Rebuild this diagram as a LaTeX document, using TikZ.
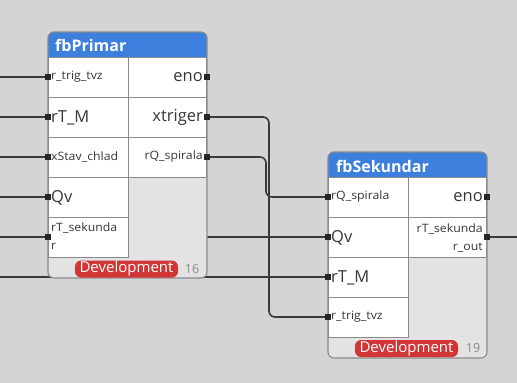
\documentclass[tikz,border=0pt]{standalone}
\usepackage{fontspec}
\setmainfont{Open Sans}
\usepackage{graphicx}
\definecolor{bgc}{HTML}{D4D4D4}
\definecolor{bodyc}{HTML}{E3E3E3}
\definecolor{borderc}{HTML}{8A8A8A}
\definecolor{hdrc}{HTML}{3D7FDD}
\definecolor{badgec}{HTML}{D13535}
\definecolor{wirec}{HTML}{3A3A3A}
\definecolor{txtc}{HTML}{363636}
\definecolor{numc}{HTML}{8C8C8C}
\newcommand{\sm}[1]{\scalebox{1.07}[1]{#1}}
\begin{document}
\begin{tikzpicture}[x=1pt,y=-1pt,
  wire/.style={draw=wirec,line width=1.6pt,rounded corners=6pt},
  cellbox/.style={draw=borderc,fill=white,line width=1pt},
  frame/.style={draw=borderc,line width=1.1pt,rounded corners=6pt},
  pinsq/.style={fill=black!85,rectangle,minimum width=6pt,minimum height=6.5pt,inner sep=0pt},
  biglbl/.style={font=\fontsize{16.5}{18}\selectfont,text=txtc,inner sep=0pt},
  smlbl/.style={font=\fontsize{11.5}{13}\selectfont,text=txtc,inner sep=0pt},
  twolbl/.style={font=\fontsize{11.5}{18}\selectfont,text=txtc,inner sep=0pt},
  title/.style={font=\fontsize{16}{18}\selectfont\bfseries,text=white,inner sep=0pt,anchor=west},
  badge/.style={fill=badgec,rounded corners=6pt,text=white,font=\fontsize{15}{17}\selectfont,minimum width=103pt,minimum height=17pt,inner sep=0pt},
  numlbl/.style={font=\fontsize{12.5}{14}\selectfont,text=numc,inner sep=0pt}]
\fill[bgc] (0,0) rectangle (517,383);
\useasboundingbox (0,0) rectangle (517,383);

% pin coordinates
\coordinate (A1) at (48,77);
\coordinate (A2) at (48,117);
\coordinate (A3) at (48,157);
\coordinate (A4) at (48,197);
\coordinate (A5) at (48,237);
\coordinate (AO1) at (207,77);
\coordinate (AO2) at (207,117);
\coordinate (AO3) at (207,157);
\coordinate (B1) at (328,197);
\coordinate (B2) at (328,237);
\coordinate (B3) at (328,277);
\coordinate (B4) at (328,317);
\coordinate (BO1) at (487,197);
\coordinate (BO2) at (487,237);
% free ends
\coordinate (L1) at (0,77);
\coordinate (L2) at (0,117);
\coordinate (L3) at (0,157);
\coordinate (L4) at (0,197);
\coordinate (L5) at (0,237);
\coordinate (L6) at (0,277);
\coordinate (ROUT) at (517,237);

% wires
\draw[wire] (L1) -- (A1);
\draw[wire] (L2) -- (A2);
\draw[wire] (L3) -- (A3);
\draw[wire] (L4) -- (A4);
\draw[wire] (L5) -- (B2);
\draw[wire] (L6) -- (B3);
\draw[wire] (AO2) -| (269,317) -- (B4);
\draw[wire] (AO3) -| (266,197) -- (B1);
\draw[wire] (BO2) -- (ROUT);

% ===== block fbPrimar =====
\fill[bodyc,rounded corners=6pt] (48,32) rectangle (207,278);
\fill[hdrc] (48,57) {[rounded corners=6pt] -- (48,32) -- (207,32)} -- (207,57) -- cycle;
\draw[cellbox] (48,57) rectangle (128,97);
\draw[cellbox] (48,97) rectangle (128,137);
\draw[cellbox] (48,137) rectangle (128,177);
\draw[cellbox] (48,177) rectangle (128,217);
\draw[cellbox] (48,217) rectangle (128,257);
\draw[cellbox] (128,57) rectangle (206,97);
\draw[cellbox] (128,97) rectangle (206,137);
\draw[cellbox] (128,137) rectangle (206,177);
\draw[frame] (48,32) rectangle (207,278);
\node[title] (t1) at (55,45) {fbPrimar};
\node[smlbl,anchor=west] (a1) at (51,77) {\sm{r\_trig\_tvz}};
\node[biglbl,anchor=west] (a2) at (51,118) {rT\_M};
\node[smlbl,anchor=west] (a3) at (51,157) {\sm{xStav\_chlad}};
\node[biglbl,anchor=west] (a4) at (51,198) {Qv};
\node[twolbl,anchor=west] (a5) at (51,237) {\sm{\begin{tabular}{@{}l@{}}rT\_sekunda\\r\end{tabular}}};
\node[biglbl,anchor=east] (ao1) at (203,77) {eno};
\node[biglbl,anchor=east] (ao2) at (203,117) {xtriger};
\node[smlbl,anchor=east] (ao3) at (203,157) {\sm{rQ\_spirala}};
\node[badge] (bd1) at (126.5,269) {Development};
\node[numlbl] (n1) at (192,269) {16};

% ===== block fbSekundar =====
\fill[bodyc,rounded corners=6pt] (328,152) rectangle (487,358);
\fill[hdrc] (328,177) {[rounded corners=6pt] -- (328,152) -- (487,152)} -- (487,177) -- cycle;
\draw[cellbox] (328,177) rectangle (408,217);
\draw[cellbox] (328,217) rectangle (408,257);
\draw[cellbox] (328,257) rectangle (408,297);
\draw[cellbox] (328,297) rectangle (408,337);
\draw[cellbox] (408,177) rectangle (486,217);
\draw[cellbox] (408,217) rectangle (486,257);
\draw[frame] (328,152) rectangle (487,358);
\node[title] (t2) at (336,166) {fbSekundar};
\node[smlbl,anchor=west] (b1) at (331,197) {\sm{rQ\_spirala}};
\node[biglbl,anchor=west] (b2) at (331,238) {Qv};
\node[biglbl,anchor=west] (b3) at (331,278) {rT\_M};
\node[smlbl,anchor=west] (b4) at (331,317) {\sm{r\_trig\_tvz}};
\node[biglbl,anchor=east] (bo1) at (483,197) {eno};
\node[twolbl,anchor=east] (bo2) at (483,238) {\sm{\begin{tabular}{@{}r@{}}rT\_sekunda\\r\_out\end{tabular}}};
\node[badge] (bd2) at (406.5,348.5) {Development};
\node[numlbl] (n2) at (473,348.5) {19};

% pins
\node[pinsq] (pA1) at (A1) {};
\node[pinsq] (pA2) at (A2) {};
\node[pinsq] (pA3) at (A3) {};
\node[pinsq] (pA4) at (A4) {};
\node[pinsq] (pA5) at (A5) {};
\node[pinsq] (pAO1) at (AO1) {};
\node[pinsq] (pAO2) at (AO2) {};
\node[pinsq] (pAO3) at (AO3) {};
\node[pinsq] (pB1) at (B1) {};
\node[pinsq] (pB2) at (B2) {};
\node[pinsq] (pB3) at (B3) {};
\node[pinsq] (pB4) at (B4) {};
\node[pinsq] (pBO1) at (BO1) {};
\node[pinsq] (pBO2) at (BO2) {};
\end{tikzpicture}
\end{document}
